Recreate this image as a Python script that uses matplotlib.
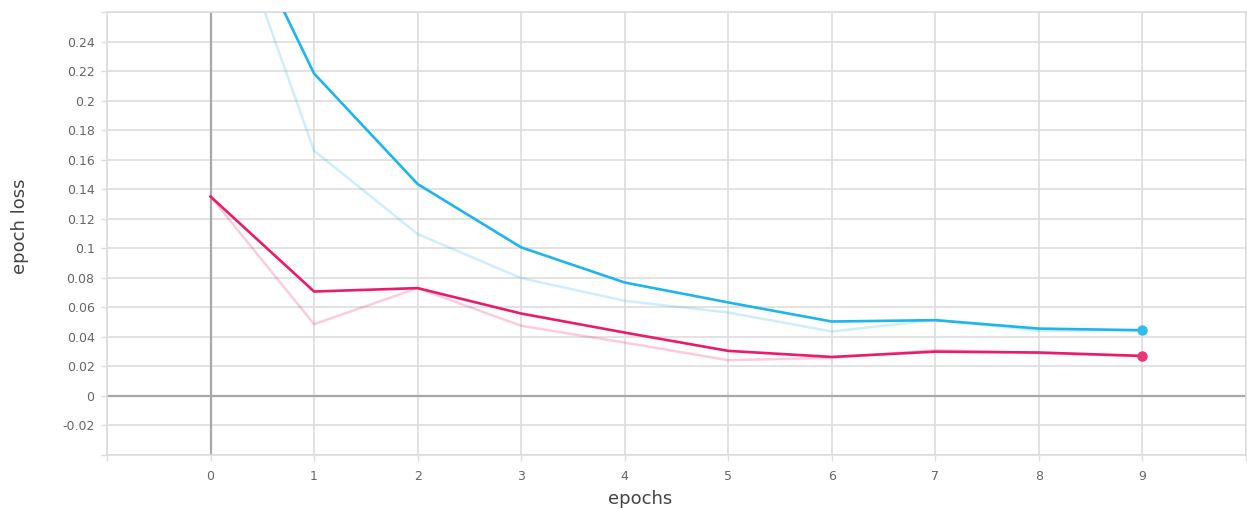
import numpy as np
import matplotlib
matplotlib.use("Agg")
import matplotlib.pyplot as plt

# epoch loss curves
epochs = [0, 1, 2, 3, 4, 5, 6, 7, 8, 9]

blue_raw = [0.363, 0.166, 0.1096, 0.0798, 0.0644, 0.0565, 0.0436, 0.0515, 0.0441, 0.0445]
blue_smooth = [0.363, 0.2183, 0.1435, 0.1006, 0.0768, 0.0633, 0.0504, 0.0513, 0.0456, 0.0445]

pink_raw = [0.135, 0.0486, 0.0730, 0.0475, 0.0361, 0.0242, 0.0258, 0.0310, 0.0290, 0.0268]
pink_smooth = [0.135, 0.0707, 0.0730, 0.0558, 0.0429, 0.0305, 0.0264, 0.0300, 0.0294, 0.0271]

y_ticks = [-0.04, -0.02, 0, 0.02, 0.04, 0.06, 0.08, 0.1, 0.12, 0.14,
           0.16, 0.18, 0.2, 0.22, 0.24, 0.26]
y_labels = ['', '-0.02', '0', '0.02', '0.04', '0.06', '0.08', '0.1', '0.12', '0.14',
            '0.16', '0.18', '0.2', '0.22', '0.24', '']
x_ticks = list(range(-1, 11))
x_labels = [''] + [str(e) for e in epochs] + ['']

BLUE = '#1db5ec'
PINK = '#ea1a6c'
BLUE_DOT = '#33bbee'
PINK_DOT = '#ee3377'
GRID = '#dddddd'

plt.rcParams['font.family'] = ['DejaVu Sans']

fig = plt.figure(figsize=(12.47, 5.09), dpi=100)
ax = fig.add_axes([107 / 1247, 54 / 509, 1139 / 1247, 443 / 509])

ax.set_xlim(-1, 10)
ax.set_ylim(-0.04, 0.26)

ax.set_yticks(y_ticks)
ax.set_yticklabels(y_labels)
ax.set_xticks(x_ticks)
ax.set_xticklabels(x_labels)

ax.grid(True, color=GRID, lw=1.2, zorder=0)
ax.axhline(0, color='#a8a8a8', lw=1.6, zorder=1.8)
ax.axvline(0, color='#a8a8a8', lw=1.6, zorder=1.8)

for sp in ax.spines.values():
    sp.set_color(GRID)
    sp.set_linewidth(1.2)

ax.tick_params(axis='both', colors=GRID, length=4, width=1, labelsize=9,
               labelcolor='#666666')
ax.tick_params(axis='y', pad=5)
ax.tick_params(axis='x', pad=7)

# raw (faint) lines then smoothed lines
ax.plot(epochs, blue_raw, color=BLUE, alpha=0.22, lw=1.8, zorder=2)
ax.plot(epochs, pink_raw, color=PINK, alpha=0.22, lw=1.8, zorder=2)
ax.plot(epochs, blue_smooth, color=BLUE, lw=1.9, zorder=3)
ax.plot(epochs, pink_smooth, color=PINK, lw=1.9, zorder=3)

ax.plot(epochs[-1], blue_smooth[-1], 'o', color=BLUE_DOT, ms=6.5, zorder=4)
ax.plot(epochs[-1], pink_smooth[-1], 'o', color=PINK_DOT, ms=6.5, zorder=4)

fig.text(20 / 1247, 1 - 226 / 509, 'epoch loss', rotation=90, ha='center', va='center',
         fontsize=13, color='#444444')
fig.text(640 / 1247, 1 - 499 / 509, 'epochs', ha='center', va='center',
         fontsize=13, color='#444444')

fig.savefig('out.png', dpi=100, facecolor='white')
